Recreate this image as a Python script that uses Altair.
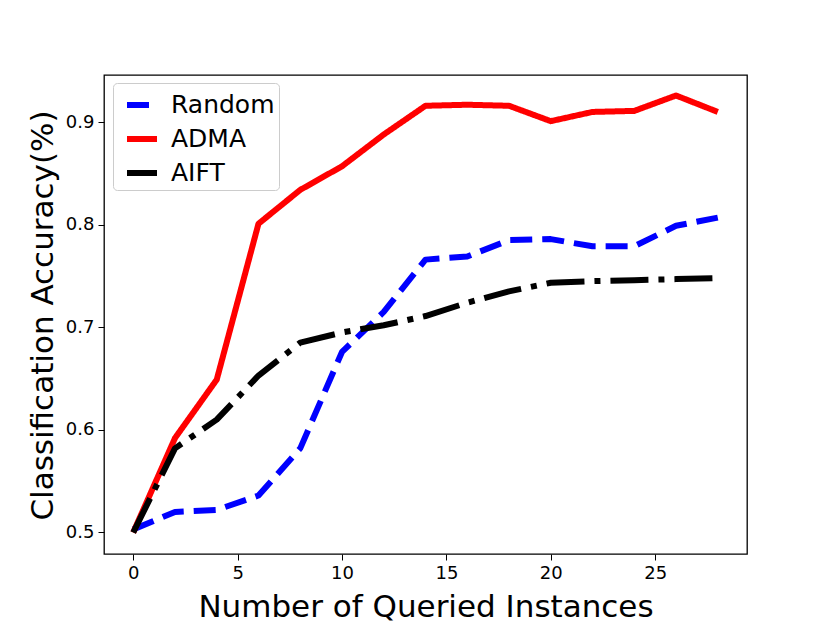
import altair as alt
import pandas as pd

queried = [0, 2, 4, 6, 8, 10, 12, 14, 16, 18, 20, 22, 24, 26, 28]
random_acc = [0.503, 0.520, 0.522, 0.536, 0.582, 0.676, 0.715, 0.766, 0.769, 0.785, 0.786, 0.779, 0.779, 0.799, 0.807]
adma_acc = [0.500, 0.592, 0.649, 0.801, 0.834, 0.857, 0.888, 0.916, 0.917, 0.916, 0.901, 0.910, 0.911, 0.926, 0.910]
aift_acc = [0.500, 0.582, 0.610, 0.653, 0.685, 0.695, 0.702, 0.711, 0.724, 0.735, 0.7435, 0.745, 0.746, 0.747, 0.748]

methods = ["Random", "ADMA", "AIFT"]
colors = ["#0000ff", "#ff0000", "#000000"]
dashes = [[22, 10], [1, 0], [38, 10, 6, 10]]
x_ticks = [0, 5, 10, 15, 20, 25]
y_ticks = [0.5, 0.6, 0.7, 0.8, 0.9]

rows = []
for name, vals in zip(methods, [random_acc, adma_acc, aift_acc]):
    for i, (q, v) in enumerate(zip(queried, vals)):
        rows.append({"method": name, "order": i, "x": q, "y": v})
df = pd.DataFrame(rows)

FONT = "DejaVu Sans"

legend = alt.Legend(
    title=None,
    orient="none",
    legendX=9,
    legendY=8,
    symbolType="stroke",
    symbolSize=900,
    symbolStrokeWidth=6,
    labelFontSize=25,
    labelFont=FONT,
    labelColor="black",
    labelOffset=11,
    rowPadding=3,
    padding=4,
    symbolOffset=7,
    fillColor="rgba(255,255,255,0.8)",
    strokeColor="#cccccc",
    cornerRadius=4,
)

chart = alt.Chart(df).mark_line(strokeWidth=6, strokeJoin="round", clip=True).encode(
    x=alt.X(
        "x:Q",
        scale=alt.Scale(domain=[-1.4, 29.4], nice=False, zero=False),
        axis=alt.Axis(
            title="Number of Queried Instances",
            values=x_ticks,
            format="d",
            grid=False,
            tickSize=6,
            tickColor="black",
            labelPadding=4,
            labelFontSize=18,
            labelFont=FONT,
            labelColor="black",
            titleFontSize=31,
            titleFont=FONT,
            titleFontWeight="normal",
            titleColor="black",
            titleBaseline="alphabetic",
            titleY=62,
            domain=False,
        ),
    ),
    y=alt.Y(
        "y:Q",
        scale=alt.Scale(domain=[0.479, 0.946], nice=False, zero=False),
        axis=alt.Axis(
            title="Classification Accuracy(%)",
            values=y_ticks,
            format=".1f",
            grid=False,
            tickSize=6,
            tickColor="black",
            labelPadding=4,
            labelFontSize=18,
            labelFont=FONT,
            labelColor="black",
            titleFontSize=31,
            titleFont=FONT,
            titleFontWeight="normal",
            titleColor="black",
            titleBaseline="alphabetic",
            titleAngle=270,
            titleX=-52,
            titleY=240,
            titleAlign="center",
            domain=False,
        ),
    ),
    color=alt.Color("method:N", scale=alt.Scale(domain=methods, range=colors), legend=legend),
    strokeDash=alt.StrokeDash("method:N", scale=alt.Scale(domain=methods, range=dashes), legend=legend),
    order="order:Q",
).properties(
    width=643,
    height=479,
    background="white",
    autosize=alt.AutoSizeParams(type="none"),
    padding={"left": 96, "top": 67, "right": 70, "bottom": 70},
).configure_view(
    stroke="black", strokeWidth=1.3
)

chart.save("out.html", embed_options={"renderer": "svg", "actions": False})
